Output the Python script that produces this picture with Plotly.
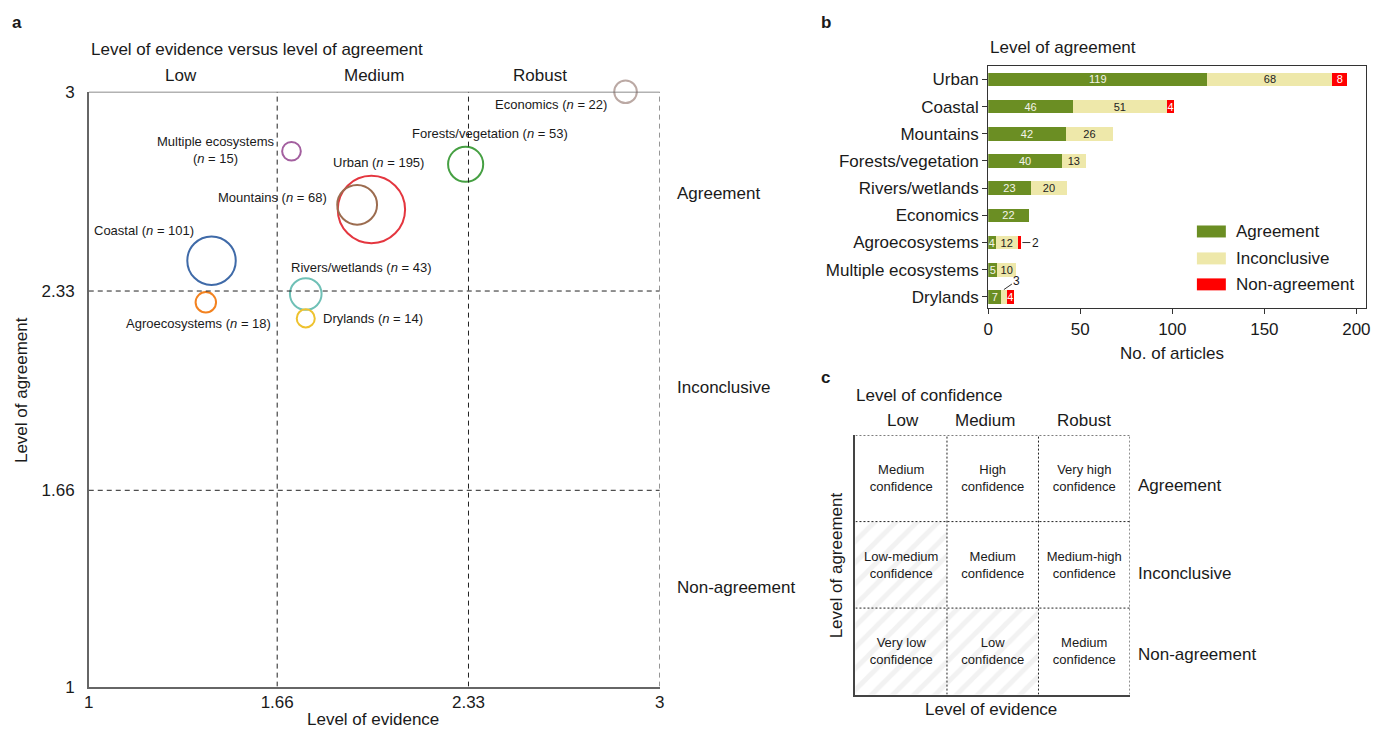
import plotly.graph_objects as go

W, H = 1375, 735
# measured mapping of this page onto the photographed picture: pic = a*fig + b
AX, BX, AY, BY = 0.9944, 4.1, 0.976, 8.1
def px(x): return ((x - BX) / AX) / W
def py(y): return 1 - ((y - BY) / AY) / H

FONT = "Liberation Sans, Arial, sans-serif"
TXT = "#1a1a1a"

# ---------------- Panel a data ----------------
eco_names = ["Economics", "Multiple ecosystems", "Forests/vegetation", "Urban", "Mountains",
             "Coastal", "Rivers/wetlands", "Agroecosystems", "Drylands"]
eco_n = [22, 15, 53, 195, 68, 101, 43, 18, 14]
evidence = [2.88, 1.71, 2.32, 1.99, 1.94, 1.43, 1.76, 1.41, 1.76]
agreement = [3.0, 2.80, 2.756, 2.604, 2.62, 2.432, 2.32, 2.292, 2.238]
eco_colors = ["#bba9a4", "#a35f9f", "#46a043", "#e4363f", "#9c6c4f",
              "#3f6aa8", "#6fc0b6", "#f3821f", "#eec22e"]
a_ticks = [1, 1.66, 2.33, 3]
a_ticktext = ["1", "1.66", "2.33", "3"]

# ---------------- Panel b data ----------------
b_cats = ["Urban", "Coastal", "Mountains", "Forests/vegetation", "Rivers/wetlands",
          "Economics", "Agroecosystems", "Multiple ecosystems", "Drylands"]
agree_counts = [119, 46, 42, 40, 23, 22, 4, 5, 7]
inconc_counts = [68, 51, 26, 13, 20, 0, 12, 10, 3]
nonagree_counts = [8, 4, 0, 0, 0, 0, 2, 0, 4]
series_names = ["Agreement", "Inconclusive", "Non-agreement"]
series_colors = ["#6b8e23", "#eee8aa", "#ff0000"]
series_textcolors = ["#f4f4ea", "#222222", "#ffffff"]
b_ticks = [0, 50, 100, 150, 200]

# ---------------- Panel c data ----------------
c_cols = ["Low", "Medium", "Robust"]
c_rows = ["Agreement", "Inconclusive", "Non-agreement"]
c_labels = [["Medium<br>confidence", "High<br>confidence", "Very high<br>confidence"],
            ["Low-medium<br>confidence", "Medium<br>confidence", "Medium-high<br>confidence"],
            ["Very low<br>confidence", "Low<br>confidence", "Medium<br>confidence"]]
c_hatched = [[False, False, False],
             [True, False, False],
             [True, True, False]]

fig = go.Figure()

# Panel a bubbles
fig.add_trace(go.Scatter(
    x=evidence, y=agreement, mode="markers", xaxis="x", yaxis="y",
    marker=dict(size=eco_n, sizemode="area", sizeref=0.086, opacity=1,
                color="rgba(0,0,0,0)", line=dict(color=eco_colors, width=2)),
    cliponaxis=False, hoverinfo="skip", showlegend=False))

# Panel b stacked bars (bottom-to-top order for the category axis)
cats_bt = b_cats[::-1]
all_series = [agree_counts, inconc_counts, nonagree_counts]
for si, vals in enumerate(all_series):
    vals_bt = vals[::-1]
    texts = []
    for cat, v in zip(cats_bt, vals_bt):
        if v <= 0:
            texts.append("")
        elif (cat == "Agroecosystems" and si == 2) or (cat == "Drylands" and si == 1):
            texts.append("")
        else:
            texts.append(str(v))
    fig.add_trace(go.Bar(
        y=cats_bt, x=vals_bt, orientation="h", xaxis="x2", yaxis="y2",
        name=series_names[si], marker=dict(color=series_colors[si], line=dict(width=0)),
        width=0.5, text=texts, textposition="inside", insidetextanchor="middle",
        textangle=0, constraintext="none",
        textfont=dict(size=11, color=series_textcolors[si], family=FONT),
        hoverinfo="skip", showlegend=False))

# Panel c cells
cx, cbase, ctext, cshape = [], [], [], []
for r in range(3):
    for c in range(3):
        cx.append(c + 0.5)
        cbase.append(2 - r)
        ctext.append(c_labels[r][c])
        cshape.append("/" if c_hatched[r][c] else "")
fig.add_trace(go.Bar(
    x=cx, y=[1] * 9, base=cbase, width=1, xaxis="x3", yaxis="y3",
    marker=dict(color="white", line=dict(width=0),
                pattern=dict(shape=cshape, fgcolor="#e6e6e6", bgcolor="white",
                             size=15, solidity=0.33)),
    text=ctext, textposition="inside", insidetextanchor="middle", textangle=0,
    constraintext="none", textfont=dict(size=13, color=TXT, family=FONT),
    hoverinfo="skip", showlegend=False))

shapes = []
# Panel a lines
for v in [1.66, 2.33]:
    shapes.append(dict(type="line", xref="x", yref="y", x0=v, x1=v, y0=1, y1=3,
                       line=dict(color="#222", width=1, dash="5px,4px")))
    shapes.append(dict(type="line", xref="x", yref="y", x0=1, x1=3, y0=v, y1=v,
                       line=dict(color="#222", width=1, dash="5px,4px")))
shapes.append(dict(type="line", xref="x", yref="y", x0=3, x1=3, y0=1, y1=3,
                   line=dict(color="#444", width=1, dash="5px,4px")))
shapes.append(dict(type="line", xref="x", yref="y", x0=1, x1=3, y0=3, y1=3,
                   line=dict(color="#666", width=1.5)))
# Panel c lines
for v in [1, 2]:
    shapes.append(dict(type="line", xref="x3", yref="y3", x0=v, x1=v, y0=0, y1=3,
                       line=dict(color="#222", width=1, dash="2px,2px")))
    shapes.append(dict(type="line", xref="x3", yref="y3", x0=0, x1=3, y0=v, y1=v,
                       line=dict(color="#222", width=1, dash="2px,2px")))
shapes.append(dict(type="line", xref="x3", yref="y3", x0=3, x1=3, y0=0, y1=3,
                   line=dict(color="#222", width=1, dash="2px,2px")))
shapes.append(dict(type="line", xref="x3", yref="y3", x0=0, x1=3, y0=3, y1=3,
                   line=dict(color="#222", width=1, dash="2px,2px")))
# Panel b legend swatches
leg_y = [231, 258, 284]
for i in range(3):
    shapes.append(dict(type="rect", xref="paper", yref="paper",
                       x0=px(1198), x1=px(1227), y0=py(leg_y[i] + 6), y1=py(leg_y[i] - 6),
                       fillcolor=series_colors[i], line=dict(width=0)))

def ann(text, x, y, size=17, xanchor="center", yanchor="middle", **kw):
    d = dict(text=text, x=px(x), y=py(y), xref="paper", yref="paper", showarrow=False,
             font=dict(size=size, color=TXT, family=FONT), xanchor=xanchor, yanchor=yanchor)
    d.update(kw)
    return d

anns = []
# panel letters
anns += [ann("<b>a</b>", 16, 22, 17), ann("<b>b</b>", 826, 22, 17), ann("<b>c</b>", 826, 377, 17)]
# Panel a texts
anns.append(ann("Level of evidence versus level of agreement", 88, 49, 17, xanchor="left"))
for t, x in zip(["Low", "Medium", "Robust"], [180, 374, 540]):
    anns.append(ann(t, x, 75, 17))
for t, y in zip(["Agreement", "Inconclusive", "Non-agreement"], [193, 387, 588]):
    anns.append(ann(t, 675, y, 17, xanchor="left"))
anns.append(ann("Level of agreement", 20, 390, 17, textangle=-90))
anns.append(ann("Level of evidence", 373, 720, 17))
# bubble labels
anns.append(ann("Economics (<i>n</i> = 22)", 609, 104, 13, xanchor="right"))
anns.append(ann("Forests/vegetation (<i>n</i> = 53)", 490, 133, 13))
anns.append(ann("Multiple ecosystems<br>(<i>n</i> = 15)", 215, 149, 13))
anns.append(ann("Urban (<i>n</i> = 195)", 378, 162, 13))
anns.append(ann("Mountains (<i>n</i> = 68)", 329, 197, 13, xanchor="right"))
anns.append(ann("Coastal (<i>n</i> = 101)", 91, 230, 13, xanchor="left"))
anns.append(ann("Rivers/wetlands (<i>n</i> = 43)", 361, 267, 13))
anns.append(ann("Agroecosystems (<i>n</i> = 18)", 198, 323, 13))
anns.append(ann("Drylands (<i>n</i> = 14)", 321, 318, 13, xanchor="left"))
# Panel b texts
anns.append(ann("Level of agreement", 989, 47, 17, xanchor="left"))
anns.append(ann("No. of articles", 1173, 353, 17))
for i in range(3):
    anns.append(ann(series_names[i], 1235, leg_y[i], 17, xanchor="left"))
anns.append(dict(text="2", x=18, y="Agroecosystems", xref="x2", yref="y2", showarrow=True,
                 ax=14, ay=0, arrowhead=0, arrowwidth=1, arrowcolor="#333", standoff=1,
                 font=dict(size=12, color=TXT, family=FONT)))
anns.append(dict(text="3", x=8.5, y=0.27, xref="x2", yref="y2", showarrow=True,
                 ax=13, ay=-9, arrowhead=0, arrowwidth=1, arrowcolor="#333", standoff=0,
                 font=dict(size=12, color=TXT, family=FONT)))
# Panel c texts
anns.append(ann("Level of confidence", 855, 395, 17, xanchor="left"))
for t, x in zip(c_cols, [904, 986, 1085]):
    anns.append(ann(t, x, 420, 17))
for t, y in zip(c_rows, [486, 574, 655]):
    anns.append(ann(t, 1137, y, 17, xanchor="left"))
anns.append(ann("Level of agreement", 837, 565, 17, textangle=-90))
anns.append(ann("Level of evidence", 992, 710, 17))

fig.update_layout(
    width=W, height=H, margin=dict(l=0, r=0, t=0, b=0),
    paper_bgcolor="white", plot_bgcolor="white",
    font=dict(family=FONT, size=17, color=TXT),
    barmode="stack", showlegend=False,
    shapes=shapes, annotations=anns,
    xaxis=dict(domain=[px(88), px(660)], range=[1, 3], tickvals=a_ticks, ticktext=a_ticktext,
               showgrid=False, zeroline=False, showline=True, linecolor="#666", linewidth=1.5,
               ticks="", ticklabelstandoff=-1, tickfont=dict(size=17), anchor="y"),
    yaxis=dict(domain=[py(687), py(91)], range=[1, 3], tickvals=a_ticks, ticktext=a_ticktext,
               showgrid=False, zeroline=False, showline=True, linecolor="#666", linewidth=1.5,
               ticks="", ticklabelstandoff=9, tickfont=dict(size=17), anchor="x"),
    xaxis2=dict(domain=[px(989), px(1367)], range=[0, 205], tickvals=b_ticks,
                showgrid=False, zeroline=False, showline=True, mirror=True, linecolor="#333",
                linewidth=1, ticks="outside", ticklen=5, tickcolor="#333",
                ticklabeloverflow="allow", tickfont=dict(size=17), anchor="y2"),
    yaxis2=dict(domain=[py(308), py(65)], range=[-0.42, 8.5], type="category",
                showgrid=False, zeroline=False, showline=True, mirror=True, linecolor="#333",
                linewidth=1, ticks="outside", ticklen=5, tickcolor="#333",
                tickfont=dict(size=17), anchor="x2"),
    xaxis3=dict(domain=[px(856), px(1131)], range=[0, 3], showgrid=False, zeroline=False,
                showticklabels=False, showline=True, linecolor="#444", linewidth=1.5,
                ticks="", anchor="y3"),
    yaxis3=dict(domain=[py(695), py(435)], range=[0, 3], showgrid=False, zeroline=False,
                showticklabels=False, showline=True, linecolor="#444", linewidth=1.5,
                ticks="", anchor="x3"),
)

fig.write_html("out.html", config={"displayModeBar": False},
               post_script="document.body.style.margin='0px';document.body.style.overflow='hidden';")
